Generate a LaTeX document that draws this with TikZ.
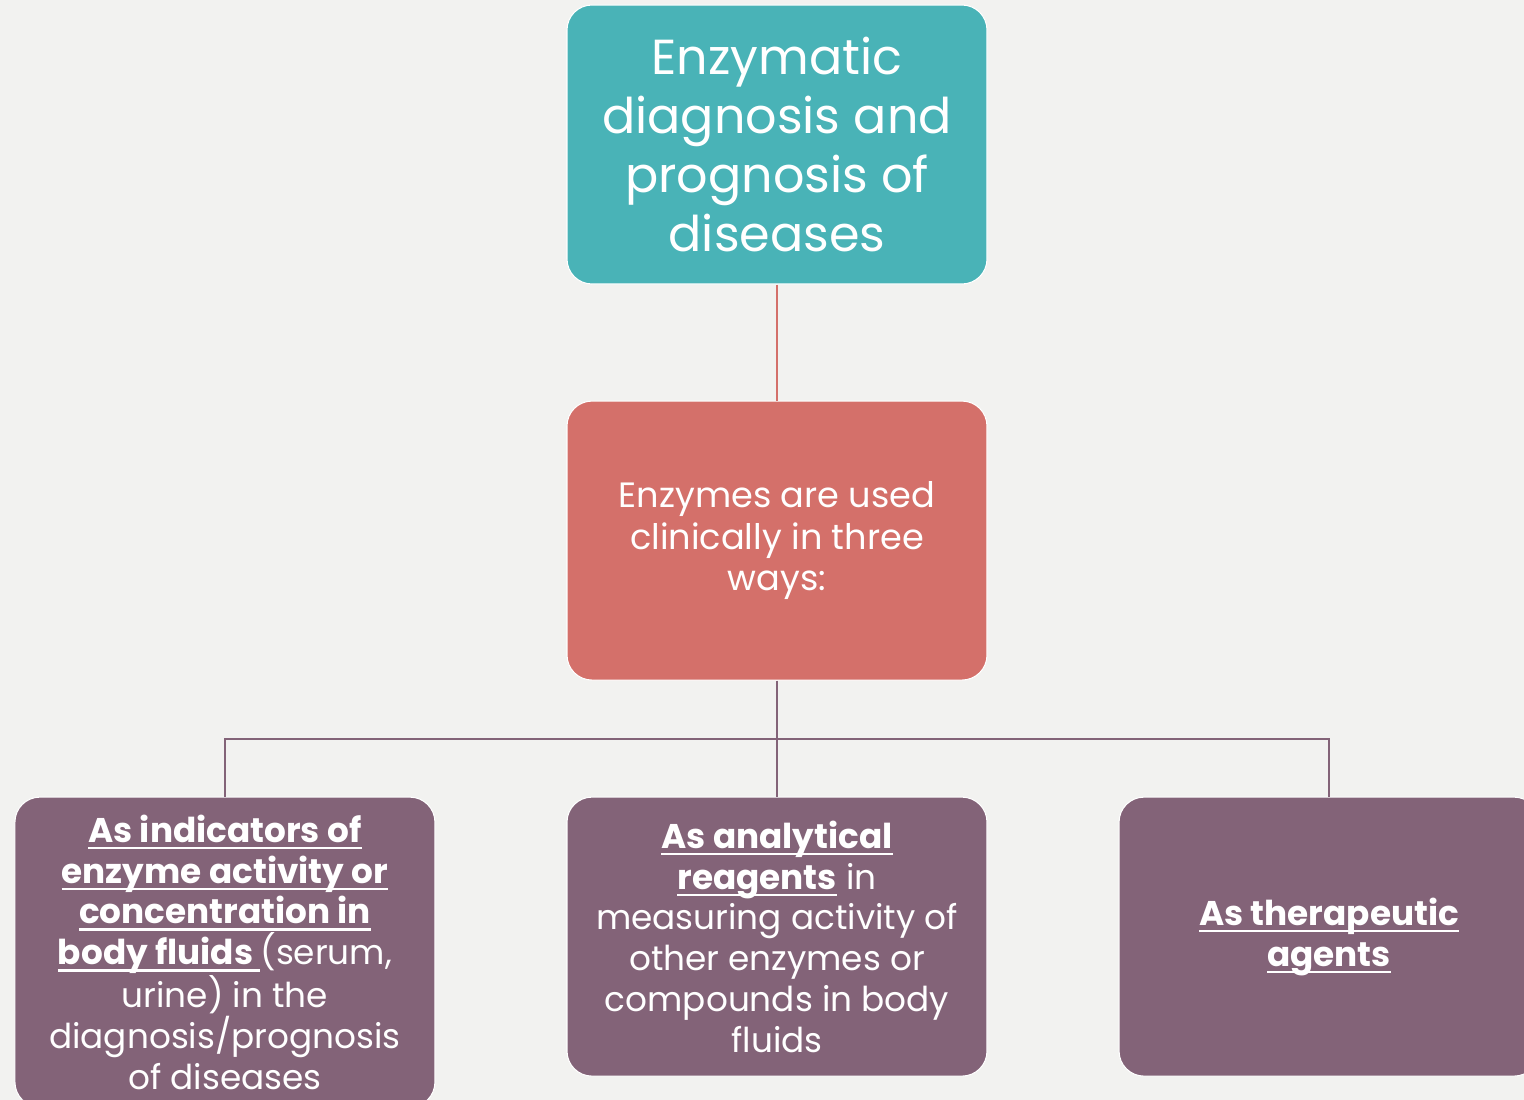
\documentclass[tikz,border=0pt]{standalone}
\usepackage{fontspec}
\setmainfont{Poppins}
\usepackage{tikz}
\usetikzlibrary{positioning, calc}

\definecolor{pagebg}{HTML}{F2F2F0}
\definecolor{tealbox}{HTML}{49B3B7}
\definecolor{redbox}{HTML}{D4706A}
\definecolor{plumbox}{HTML}{836378}

\newcommand{\keyterm}[1]{\textbf{\setbox0\hbox{#1}\rlap{\rule[-0.2em]{\wd0}{1.3pt}}\box0}}

\begin{document}
\begin{tikzpicture}[
    node distance=2.32cm and 2.62cm,
    box/.style={rectangle, draw=white, line width=0.6pt, rounded corners=0.5cm,
        minimum width=8.4cm, minimum height=5.58cm, align=center,
        text=white, inner sep=2pt},
    headbox/.style={box, fill=tealbox, font=\fontsize{28}{33.5}\selectfont},
    waysbox/.style={box, fill=redbox, font=\fontsize{20}{23.8}\selectfont},
    usebox/.style={box, fill=plumbox, font=\fontsize{19.5}{23.2}\selectfont},
    redlink/.style={draw=redbox, line width=1.2pt},
    plumlink/.style={draw=plumbox, line width=1.2pt},
]

\fill[pagebg] (0,0) rectangle (30.48,-22);
\useasboundingbox (0,0) rectangle (30.48,-22);
\clip (0,0) rectangle (30.48,-22);

\node[headbox] (head) at (15.54,-2.89)
    {Enzymatic\\ diagnosis and\\ prognosis of\\ diseases};
\node[waysbox, below=of head] (ways)
    {Enzymes are used\\ clinically in three\\ ways:};
\node[usebox, below=of ways] (reagent)
    {\keyterm{As analytical}\\
     \keyterm{reagents} in\\
     measuring activity of\\
     other enzymes or\\
     compounds in body\\
     fluids};
\node[usebox, minimum height=6.2cm,
    left=2.62cm of reagent.north west, anchor=north east] (indicator)
    {\keyterm{As indicators of}\\
     \keyterm{enzyme activity or}\\
     \keyterm{concentration in}\\
     \keyterm{body fluids }(serum,\\
     urine) in the\\
     diagnosis/prognosis\\
     of diseases};
\node[usebox, right=of reagent] (therapy)
    {\keyterm{As therapeutic}\\ \keyterm{agents}};

% links between levels
\coordinate (rail) at ($(ways.south)!0.5!(reagent.north)$);
\draw[redlink] (head) -- (ways);
\draw[plumlink] (ways) -- (reagent);
\draw[plumlink] (indicator.north) |- (rail) -| (therapy.north);

\end{tikzpicture}
\end{document}
